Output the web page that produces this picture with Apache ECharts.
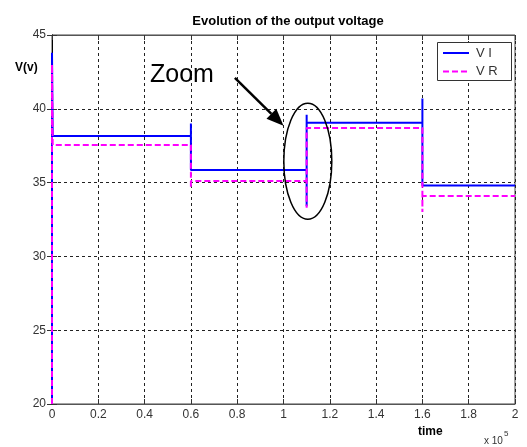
<!DOCTYPE html>
<html>
<head>
<meta charset="utf-8">
<script src="https://cdn.jsdelivr.net/npm/echarts@6/dist/echarts.min.js"></script>
<style>html,body{margin:0;padding:0;background:#fff;}#c{width:527px;height:447px;}</style>
</head>
<body>
<div id="c"></div>
<script>
// ---- data (time in units of 1e5) ----
var xTicks = [0, 0.2, 0.4, 0.6, 0.8, 1, 1.2, 1.4, 1.6, 1.8, 2];
var yTicks = [20, 25, 30, 35, 40, 45];
var viData = [[0,20],[0,43.8],[0.003,38.15],[0.6,38.15],[0.6,39.0],[0.6,35.85],[1.1,35.85],[1.1,33.4],[1.1,39.6],[1.1,39.05],[1.6,39.05],[1.6,40.7],[1.6,34.8],[2,34.8]];
var vrData = [[0,20],[0,43],[0.003,37.55],[0.6,37.55],[0.6,34.65],[0.6,35.1],[1.1,35.1],[1.1,33.3],[1.1,38.7],[1.6,38.7],[1.6,33.0],[1.6,34.1],[2,34.1]];
var seriesNames = ['V I', 'V R'];

var BLUE = '#0000ff', MAG = '#ff00ff', DASH = [6, 3];
var chart = echarts.init(document.getElementById('c'), null, {renderer: 'canvas'});
var FONT = 'Liberation Sans, Arial, sans-serif';
var gridLine = {show: true, lineStyle: {color: '#222', type: [3, 3], width: 1}};
var opt = {
  backgroundColor: '#fff',
  animation: false,
  title: {
    text: 'Evolution of the output voltage',
    left: 283, top: 10, textAlign: 'center',
    textStyle: {fontFamily: FONT, fontSize: 13, fontWeight: 'bold', color: '#000'}
  },
  grid: {left: 52, right: 12, top: 35, bottom: 43, show: true, borderColor: '#444', borderWidth: 1},
  xAxis: [{
    type: 'value', min: 0, max: 2, interval: 0.2,
    axisLine: {show: true, onZero: false, lineStyle: {color: '#555', width: 1}},
    axisTick: {show: true, inside: true, length: 5, lineStyle: {color: '#333'}},
    axisLabel: {fontFamily: FONT, fontSize: 12, color: '#333', margin: 5,
      formatter: function (v) { return String(Math.round(v * 10) / 10); }},
    splitLine: gridLine
  }, {
    type: 'value', min: 0, max: 2, interval: 0.2, position: 'top',
    axisLine: {show: true, lineStyle: {color: '#555'}},
    axisTick: {show: true, inside: true, length: 5, lineStyle: {color: '#333'}},
    axisLabel: {show: false}, splitLine: {show: false}
  }],
  yAxis: [{
    type: 'value', min: 20, max: 45, interval: 5,
    axisLine: {show: true, onZero: false, lineStyle: {color: '#555', width: 1}},
    axisTick: {show: true, inside: true, length: 5, lineStyle: {color: '#333'}},
    axisLabel: {fontFamily: FONT, fontSize: 12, color: '#333', margin: 6},
    splitLine: gridLine
  }, {
    type: 'value', min: 20, max: 45, interval: 5, position: 'right',
    axisLine: {show: true, lineStyle: {color: '#000'}},
    axisTick: {show: true, inside: true, length: 5, lineStyle: {color: '#333'}},
    axisLabel: {show: false}, splitLine: {show: false}
  }],
  series: [{
    name: seriesNames[0], type: 'line', data: viData, symbol: 'none', showSymbol: false,
    lineStyle: {color: BLUE, width: 2}, itemStyle: {color: BLUE}, z: 3
  }, {
    name: seriesNames[1], type: 'line', data: vrData, symbol: 'none', showSymbol: false,
    lineStyle: {color: MAG, width: 2, type: DASH}, itemStyle: {color: MAG}, z: 4
  }]
};
chart.setOption(opt);

// annotations anchored via axis conversion
var ctr = chart.convertToPixel({gridIndex: 0}, [1.105, 36.45]);
var tip = chart.convertToPixel({gridIndex: 0}, [1.0, 38.85]);
var tail = chart.convertToPixel({gridIndex: 0}, [0.79, 42.1]);
var dx = tip[0] - tail[0], dy = tip[1] - tail[1];
var L = Math.sqrt(dx * dx + dy * dy), ux = dx / L, uy = dy / L;
var hl = 17, hw = 7;
var bx = tip[0] - ux * hl, by = tip[1] - uy * hl;
chart.setOption({
  graphic: [
    {type: 'text', left: 15, top: 62, style: {text: 'V(v)', font: 'bold 12px ' + FONT, fill: '#000'}},
    {type: 'text', left: 418, top: 426, style: {text: 'time', font: 'bold 12px ' + FONT, fill: '#000'}},
    {type: 'text', left: 484, top: 436, style: {text: 'x 10', font: '10px ' + FONT, fill: '#333'}},
    {type: 'text', left: 504, top: 430, style: {text: '5', font: '8px ' + FONT, fill: '#333'}},
    {type: 'text', left: 150, top: 63, style: {text: 'Zoom', font: '25px ' + FONT, fill: '#000'}},
    {type: 'ellipse', shape: {cx: ctr[0], cy: ctr[1], rx: 24, ry: 58}, style: {fill: 'none', stroke: '#000', lineWidth: 1.5}, z: 10},
    {type: 'line', shape: {x1: tail[0], y1: tail[1], x2: bx, y2: by}, style: {stroke: '#000', lineWidth: 2.5}, z: 10},
    {type: 'polygon', shape: {points: [[tip[0], tip[1]], [bx - uy * hw, by + ux * hw], [bx + uy * hw, by - ux * hw]]}, style: {fill: '#000'}, z: 10},
    // legend box
    {type: 'rect', shape: {x: 437.5, y: 42.5, width: 74, height: 38}, style: {fill: '#fff', stroke: '#333', lineWidth: 1}, z: 20},
    {type: 'line', shape: {x1: 443, y1: 53, x2: 469, y2: 53}, style: {stroke: BLUE, lineWidth: 2}, z: 21},
    {type: 'line', shape: {x1: 443, y1: 71.5, x2: 469, y2: 71.5}, style: {stroke: MAG, lineWidth: 2, lineDash: DASH}, z: 21},
    {type: 'text', x: 476, y: 53, style: {text: seriesNames[0], font: '13px ' + FONT, fill: '#333', verticalAlign: 'middle'}, z: 21},
    {type: 'text', x: 476, y: 71.5, style: {text: seriesNames[1], font: '13px ' + FONT, fill: '#333', verticalAlign: 'middle'}, z: 21}
  ]
});
</script>
</body>
</html>
